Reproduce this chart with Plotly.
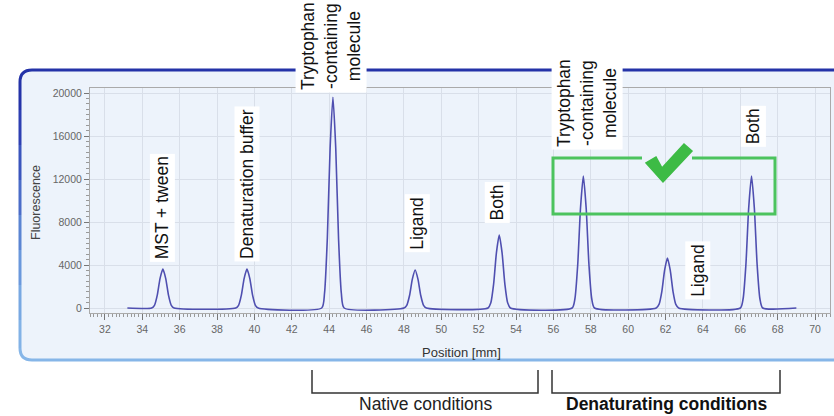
import plotly.graph_objects as go

# ---- capillary scan: fluorescence along the capillary tray ----
position_mm = [
    33.2,
    34.5, 34.65, 34.8, 34.95, 35.1, 35.25, 35.4, 35.55, 35.7,
    39.0, 39.15, 39.3, 39.45, 39.6, 39.75, 39.9, 40.05, 40.2,
    43.6, 43.75, 43.9, 44.05, 44.2, 44.35, 44.5, 44.65, 44.8,
    48.0, 48.15, 48.3, 48.45, 48.6, 48.75, 48.9, 49.05, 49.2,
    52.5, 52.65, 52.8, 52.95, 53.1, 53.25, 53.4, 53.55, 53.7,
    57.0, 57.15, 57.3, 57.45, 57.6, 57.75, 57.9, 58.05, 58.2,
    61.5, 61.65, 61.8, 61.95, 62.1, 62.25, 62.4, 62.55, 62.7,
    66.0, 66.15, 66.3, 66.45, 66.6, 66.75, 66.9, 67.05, 67.2,
    69.0,
]
fluorescence = [
    0,
    0, 250, 1200, 2760, 3630, 2760, 1200, 250, 0,
    0, 250, 1200, 2760, 3630, 2760, 1200, 250, 0,
    0, 1370, 6470, 14900, 19600, 14900, 6470, 1370, 0,
    0, 250, 1160, 2680, 3530, 2680, 1160, 250, 0,
    0, 480, 2240, 5160, 6790, 5160, 2240, 480, 0,
    0, 860, 4050, 9330, 12280, 9330, 4050, 860, 0,
    0, 330, 1530, 3530, 4650, 3530, 1530, 330, 0,
    0, 860, 4050, 9330, 12280, 9330, 4050, 860, 0,
    0,
]

# sample names written beside each capillary
label_texts = [
    "MST + tween",
    "Denaturation buffer",
    "Tryptophan<br>-containing<br>molecule",
    "Ligand",
    "Both",
    "Tryptophan<br>-containing<br>molecule",
    "Ligand",
    "Both",
]
label_x = [35.1, 39.6, 44.1, 48.7, 53.0, 57.8, 63.7, 66.7]
label_y = [4280, 4280, 20000, 5100, 7900, 14700, 740, 14980]

x_ticks = [32, 34, 36, 38, 40, 42, 44, 46, 48, 50, 52, 54, 56, 58, 60, 62, 64, 66, 68, 70]
y_ticks = [0, 4000, 8000, 12000, 16000, 20000]

group_names = ["Native conditions", "Denaturating conditions"]

FONT = "Liberation Sans, Arial, sans-serif"
W, H = 834, 416
L, R, T, B = 90, 4, 88, 103


def px(x):
    return (x - L) / (W - L - R)


def py(y):
    return (H - B - y) / (H - T - B)


fig = go.Figure()

fig.add_trace(go.Scatter(
    x=position_mm, y=fluorescence, mode="lines",
    line=dict(color="#4f4fb0", width=1.6, shape="spline", smoothing=0.6),
    hoverinfo="skip", showlegend=False,
))

shapes = []

# instrument panel frame behind the plot
frame = (f"M {px(850)},{py(70)} L {px(32)},{py(70)} Q {px(20)},{py(70)} {px(20)},{py(82)} "
         f"L {px(20)},{py(348)} Q {px(20)},{py(360)} {px(32)},{py(360)} L {px(850)},{py(360)} Z")
shapes.append(dict(type="path", xref="paper", yref="paper", path=frame,
                   fillcolor="#edf3fb", line=dict(width=0), layer="below"))
top_edge = (f"M {px(850)},{py(70)} L {px(32)},{py(70)} Q {px(20)},{py(70)} {px(20)},{py(82)} "
            f"L {px(20)},{py(110)}")
shapes.append(dict(type="path", xref="paper", yref="paper", path=top_edge,
                   line=dict(color="#2433a8", width=3), layer="below"))
left_cols = ["#2d3fb2", "#3a55bd", "#4a6cc8", "#5a84d2", "#6a98dc", "#78a8e2", "#82b2e6"]
ys = [110, 145, 180, 215, 250, 285, 320, 348]
for i, c in enumerate(left_cols):
    shapes.append(dict(type="line", xref="paper", yref="paper",
                       x0=px(20), x1=px(20), y0=py(ys[i]), y1=py(ys[i + 1]),
                       line=dict(color=c, width=3), layer="below"))
bottom_edge = f"M {px(20)},{py(348)} Q {px(20)},{py(360)} {px(32)},{py(360)} L {px(850)},{py(360)}"
shapes.append(dict(type="path", xref="paper", yref="paper", path=bottom_edge,
                   line=dict(color="#86b6e8", width=3), layer="below"))

# green highlight box with a gap for the tick mark
box = (f"M {px(642)},{py(158)} L {px(553)},{py(158)} L {px(553)},{py(214)} "
       f"L {px(775)},{py(214)} L {px(775)},{py(158)} L {px(692)},{py(158)}")
shapes.append(dict(type="path", xref="paper", yref="paper", path=box,
                   line=dict(color="#4cc35e", width=3)))
check = (f"M {px(646)},{py(163)} L {px(656)},{py(157)} L {px(662)},{py(168)} "
         f"L {px(684)},{py(144)} L {px(692)},{py(151)} L {px(663)},{py(182)} Z")
shapes.append(dict(type="path", xref="paper", yref="paper", path=check,
                   fillcolor="#3dbb45", line=dict(color="#3dbb45", width=1.5)))

# brackets under the scan
for x0, x1 in [(312, 538), (552, 780)]:
    shapes.append(dict(type="path", xref="paper", yref="paper",
                       path=f"M {px(x0)},{py(370)} L {px(x0)},{py(393)} L {px(x1)},{py(393)} L {px(x1)},{py(370)}",
                       line=dict(color="#333333", width=1.5)))

annotations = []
for t, x, y in zip(label_texts, label_x, label_y):
    annotations.append(dict(
        x=x, y=y, xref="x", yref="y", text=t, textangle=-90, showarrow=False,
        xanchor="center", yanchor="bottom", align="center",
        font=dict(family=FONT, size=17.5, color="#111111"),
        bgcolor="#ffffff", borderpad=2,
    ))

annotations.append(dict(x=px(426), y=py(404), xref="paper", yref="paper",
                        xanchor="center", yanchor="middle",
                        text=group_names[0], showarrow=False,
                        font=dict(family=FONT, size=17.5, color="#222222")))
annotations.append(dict(x=px(667), y=py(404), xref="paper", yref="paper",
                        xanchor="center", yanchor="middle",
                        text="<b>" + group_names[1] + "</b>", showarrow=False,
                        font=dict(family=FONT, size=17.5, color="#111111")))
annotations.append(dict(x=px(36), y=py(203), xref="paper", yref="paper",
                        xanchor="center", yanchor="middle",
                        text="Fluorescence", textangle=-90, showarrow=False,
                        font=dict(family=FONT, size=12.5, color="#444444")))
annotations.append(dict(x=px(461), y=py(352), xref="paper", yref="paper",
                        xanchor="center", yanchor="middle",
                        text="Position [mm]", showarrow=False,
                        font=dict(family=FONT, size=13, color="#333333")))

fig.update_layout(
    width=W, height=H, autosize=False,
    margin=dict(l=L, r=R, t=T, b=B, pad=0),
    paper_bgcolor="#ffffff", plot_bgcolor="#f5f8fd",
    shapes=shapes, annotations=annotations, showlegend=False,
    font=dict(family=FONT),
)
fig.update_xaxes(
    range=[31.2, 70.8], tickvals=x_ticks, ticktext=[str(v) for v in x_ticks],
    ticks="outside", ticklen=6, tickcolor="#777777", tickwidth=1,
    minor=dict(dtick=0.2, tick0=32, ticks="outside", ticklen=3, tickcolor="#999999", showgrid=False),
    showgrid=True, gridcolor="#d9dfe9", gridwidth=1,
    showline=True, linecolor="#aaaaaa", mirror=True, zeroline=False,
    tickfont=dict(family=FONT, size=10.5, color="#666666"),
)
fig.update_yaxes(
    range=[-465, 20465], tickvals=y_ticks, ticktext=[str(v) for v in y_ticks],
    ticks="outside", ticklen=5, tickcolor="#777777", tickwidth=1,
    minor=dict(dtick=500, tick0=0, ticks="outside", ticklen=3, tickcolor="#999999", showgrid=False),
    showgrid=True, gridcolor="#d9dfe9", gridwidth=1,
    showline=True, linecolor="#aaaaaa", mirror=True, zeroline=False,
    tickfont=dict(family=FONT, size=10.5, color="#666666"),
)

fig.write_html("out.html")
